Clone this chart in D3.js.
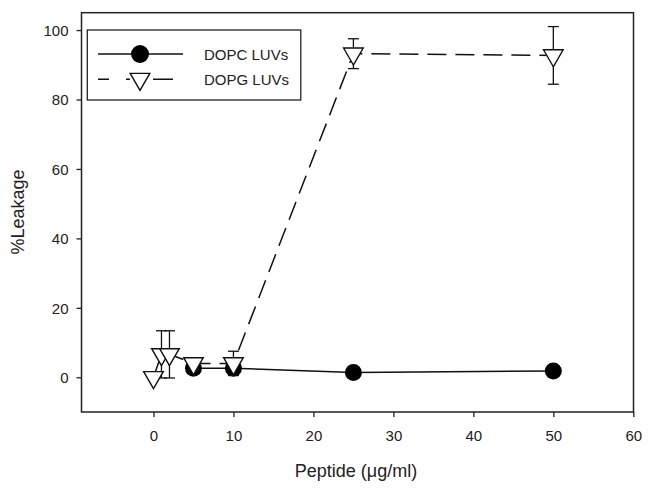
<!DOCTYPE html>
<html>
<head>
<meta charset="utf-8">
<script src="https://cdn.jsdelivr.net/npm/d3@7"></script>
<style>
  body { margin: 0; background: #fff; }
  text { font-family: "Liberation Sans", Arial, sans-serif; fill: #222; }
</style>
</head>
<body>
<div id="chart"></div>
<script>
// peptide concentration (ug/ml) and % leakage
const dopcX = [5, 10, 25, 50]
const dopcY = [2.6, 2.6, 1.4, 1.8]

const dopgX = [0, 1, 2, 5, 10, 25, 50]
const dopgY = [0, 6.6, 6.6, 4, 4, 93.2, 92.7]
const dopgErr = [0, 6.8, 6.8, 1.6, 3.5, 4.3, 8.3]

const xTicks = [0, 10, 20, 30, 40, 50, 60]
const yTicks = [0, 20, 40, 60, 80, 100]

const width = 654, height = 493
const frame = { left: 81.5, top: 12.7, right: 633.5, bottom: 412 }

const svg = d3.select('#chart').append('svg')
  .attr('width', width)
  .attr('height', height)

const x = d3.scaleLinear().domain([-9, 60]).range([frame.left, frame.right - 0.2])
const y = d3.scaleLinear().domain([-10, 105]).range([frame.bottom, frame.top])

// axes with outward ticks
const xAxis = svg.append('g')
  .attr('transform', `translate(0,${frame.bottom})`)
  .call(d3.axisBottom(x).tickValues(xTicks).tickSize(5).tickSizeOuter(0))
xAxis.select('.domain').remove()
xAxis.selectAll('line').attr('stroke', '#222').attr('stroke-width', 1.3)
xAxis.selectAll('text')
  .attr('y', 29).attr('dy', null)
  .style('font-size', '15px')
  .style('font-family', '"Liberation Sans", Arial, sans-serif')
  .attr('fill', '#222')

const yAxis = svg.append('g')
  .attr('transform', `translate(${frame.left},0)`)
  .call(d3.axisLeft(y).tickValues(yTicks).tickSize(5).tickSizeOuter(0))
yAxis.select('.domain').remove()
yAxis.selectAll('line').attr('stroke', '#222').attr('stroke-width', 1.3)
yAxis.selectAll('text')
  .attr('x', -13).attr('dy', '0.36em')
  .style('font-size', '15px')
  .style('font-family', '"Liberation Sans", Arial, sans-serif')
  .attr('fill', '#222')

svg.append('rect')
  .attr('x', frame.left).attr('y', frame.top)
  .attr('width', frame.right - frame.left)
  .attr('height', frame.bottom - frame.top)
  .attr('fill', 'none').attr('stroke', '#222').attr('stroke-width', 1.5)

// axis titles
svg.append('text')
  .attr('transform', 'translate(24,212) rotate(-90)')
  .attr('text-anchor', 'middle')
  .style('font-size', '18px')
  .text('%Leakage')

svg.append('text')
  .attr('x', 356).attr('y', 477)
  .attr('text-anchor', 'middle')
  .style('font-size', '18px')
  .text('Peptide (\u03bcg/ml)')

const line = d3.line().x(d => x(d[0])).y(d => y(d[1]))
const dopc = dopcX.map((v, i) => [v, dopcY[i]])
const dopg = dopgX.map((v, i) => [v, dopgY[i], dopgErr[i]])

const tri = d3.symbol().type(d3.symbolTriangle).size(167)

// DOPC series
svg.append('path')
  .attr('d', line(dopc))
  .attr('fill', 'none').attr('stroke', '#111').attr('stroke-width', 1.5)

svg.selectAll('.dopc')
  .data(dopc)
  .join('circle')
  .attr('class', 'dopc')
  .attr('cx', d => x(d[0])).attr('cy', d => y(d[1]))
  .attr('r', 8.5)
  .attr('fill', '#000')

// DOPG series
svg.append('path')
  .attr('d', line(dopg))
  .attr('fill', 'none').attr('stroke', '#111').attr('stroke-width', 1.5)
  .attr('stroke-dasharray', '19,9')

const bars = svg.selectAll('.err')
  .data(dopg.filter(d => d[2] > 0))
  .join('g')
  .attr('class', 'err')
  .attr('stroke', '#111').attr('stroke-width', 1.3)

bars.append('line')
  .attr('x1', d => x(d[0])).attr('x2', d => x(d[0]))
  .attr('y1', d => y(d[1] - d[2])).attr('y2', d => y(d[1] + d[2]))
bars.append('line')
  .attr('x1', d => x(d[0]) - 5.5).attr('x2', d => x(d[0]) + 5.5)
  .attr('y1', d => y(d[1] + d[2])).attr('y2', d => y(d[1] + d[2]))
bars.append('line')
  .attr('x1', d => x(d[0]) - 5.5).attr('x2', d => x(d[0]) + 5.5)
  .attr('y1', d => y(d[1] - d[2])).attr('y2', d => y(d[1] - d[2]))

svg.selectAll('.dopg')
  .data(dopg)
  .join('path')
  .attr('class', 'dopg')
  .attr('d', tri)
  .attr('transform', d => `translate(${x(d[0])},${y(d[1])}) rotate(180)`)
  .attr('fill', '#fff').attr('stroke', '#111').attr('stroke-width', 1.4)

// legend
const legend = svg.append('g')
legend.append('rect')
  .attr('x', 87.3).attr('y', 30)
  .attr('width', 213.5).attr('height', 70)
  .attr('fill', '#fff').attr('stroke', '#222').attr('stroke-width', 1.3)

legend.append('line')
  .attr('x1', 98).attr('x2', 183).attr('y1', 54).attr('y2', 54)
  .attr('stroke', '#111').attr('stroke-width', 1.5)
legend.append('circle')
  .attr('cx', 140).attr('cy', 54).attr('r', 9).attr('fill', '#000')
legend.append('text')
  .attr('x', 204).attr('y', 59.5)
  .style('font-size', '15px')
  .text('DOPC LUVs')

legend.append('line')
  .attr('x1', 98).attr('x2', 175).attr('y1', 79.3).attr('y2', 79.3)
  .attr('stroke', '#111').attr('stroke-width', 1.5)
  .attr('stroke-dasharray', '11,17,4,23,20')
legend.append('path')
  .attr('d', tri)
  .attr('transform', 'translate(140,79) rotate(180)')
  .attr('fill', '#fff').attr('stroke', '#111').attr('stroke-width', 1.4)
legend.append('text')
  .attr('x', 204).attr('y', 84.5)
  .style('font-size', '15px')
  .text('DOPG LUVs')
</script>
</body>
</html>
